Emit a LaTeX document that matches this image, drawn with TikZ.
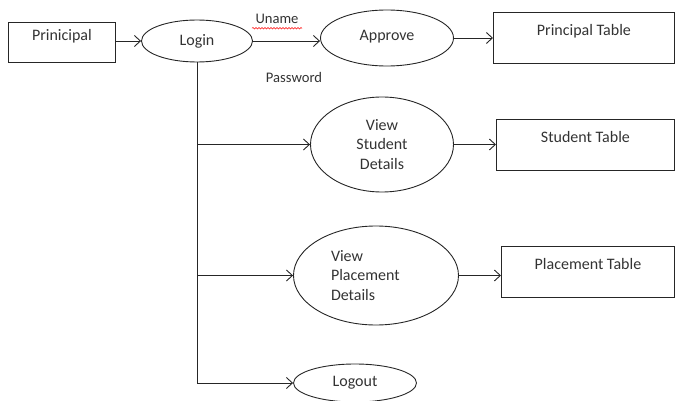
\documentclass[tikz,border=0pt]{standalone}
\usepackage{fontspec}
\setmainfont{Carlito}
\usetikzlibrary{arrows.meta,shapes.geometric,decorations.pathmorphing}
\definecolor{ink}{HTML}{262626}
\definecolor{txt}{HTML}{333333}
\begin{document}
\begin{tikzpicture}[x=1pt,y=-1pt,
  every node/.style={text=txt,font=\fontsize{16}{19.5}\selectfont},
  ln/.style={draw=ink,line width=0.9pt},
  arr/.style={ln,-{Straight Barb[length=6pt,width=11pt]}},
  tbl/.style={ln,rectangle,inner sep=0pt,anchor=north west},
  proc/.style={ln,ellipse,inner sep=0pt},
  lbl/.style={font=\fontsize{14.6}{17}\selectfont}]
\useasboundingbox (0,0) rectangle (675,401);
% boxes
\node[tbl,minimum width=107pt,text height=18pt,text depth=22pt] (pr) at (8,22) {Prinicipal};
\node[tbl,minimum width=181pt,text height=23pt,text depth=28pt] (pt) at (493,12) {Principal Table};
\node[tbl,minimum width=178pt,text height=23pt,text depth=28pt] (st) at (496,119) {Student Table};
\node[tbl,minimum width=173pt,text height=23pt,text depth=28pt] (plt) at (501,246) {Placement Table};
% processes
\node[proc,minimum width=111pt,minimum height=42pt] (login) at (197,41) {Login};
\node[proc,minimum width=133pt,minimum height=56pt] (ap) at (387,38) {\raisebox{6pt}{Approve}};
\node[proc,minimum width=143pt,minimum height=95pt,align=center] (vs) at (382,144.5) {View\\Student\\Details};
\node[proc,minimum width=165pt,minimum height=99pt,text width=90pt,align=left] (vp) at (376,275.5) {View\\Placement\\Details};
\node[proc,minimum width=123pt,minimum height=38pt] (lo) at (355,383) {Logout};
% labels
\node[lbl] (un) at (277,19) {Uname};
\node[lbl] (pw) at (294,77) {Password};
\draw[red,line width=0.5pt,decorate,decoration={snake,amplitude=0.8pt,segment length=3pt}]
  ([yshift=-1pt]un.south west) -- ([yshift=-1pt]un.south east);
% connectors
\draw[arr] (pr.east |- login.west) -- (login.west);
\draw[arr] (login.east) -- (login.east -| ap.west);
\draw[arr] (ap.east) -- (ap.east -| pt.west);
\draw[ln] (login.south) -- (login.south |- lo.west);
\draw[arr] (login.south |- lo.west) -- (lo.west);
\draw[arr] (login.south |- vs.west) -- (vs.west);
\draw[arr] (login.south |- vp.west) -- (vp.west);
\draw[arr] (vs.east) -- (vs.east -| st.west);
\draw[arr] (vp.east) -- (vp.east -| plt.west);
\end{tikzpicture}
\end{document}
